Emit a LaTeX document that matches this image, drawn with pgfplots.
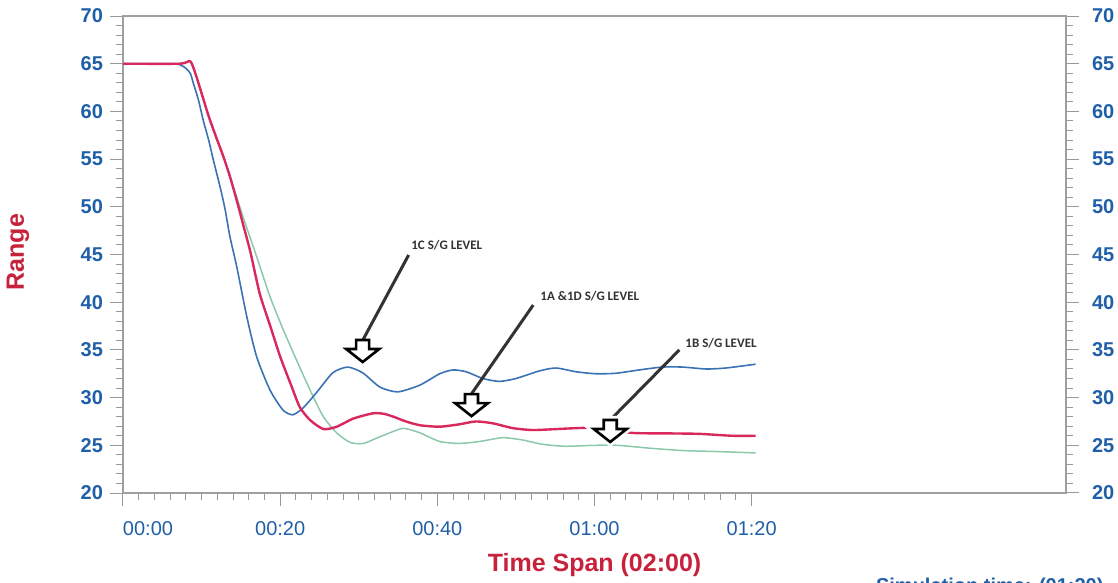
\documentclass[border=0pt]{standalone}
\usepackage{pgfplots}
\pgfplotsset{compat=1.18}
\usepackage{fontspec}
\setmainfont{Liberation Sans}
\newfontfamily\annofont{Carlito}
\definecolor{tickblue}{HTML}{1F5FA8}
\definecolor{labred}{HTML}{C8213B}
\definecolor{lblue}{HTML}{3A72B5}
\definecolor{lred}{HTML}{D9285C}
\definecolor{lgreen}{HTML}{8CC8AA}
\definecolor{annogray}{HTML}{333333}

\pgfplotsset{
  base/.style={
    at={(0,0)}, anchor=south west, scale only axis,
    width=471.5pt, height=238.5pt,
    xmin=0, xmax=120, ymin=20, ymax=70,
    tick align=outside,
    major tick length=6.5pt, minor tick length=3.5pt,
    tick style={draw=gray!80, line width=0.5pt},
    axis line style={draw=gray!75, line width=0.6pt},
    ytick={20,25,...,70}, minor ytick={20,21,...,70},
    yticklabel style={font=\fontsize{10}{12}\selectfont\bfseries, text=tickblue},
    /pgf/number format/assume math mode=true,
  },
}
\tikzset{
  blockarrow/.style={draw=black, fill=white, line width=1.3pt, line join=miter},
  arrowhalo/.style={draw=white, line width=4pt, line join=miter},
}

\begin{document}
\begin{tikzpicture}
\begin{axis}[base,
  xtick={0,20,40,60,80},
  xticklabels={\hspace*{25pt}00:00,00:20,00:40,01:00,01:20},
  minor xtick={0,2,...,80},
  xtick pos=left, ytick pos=left,
  xticklabel style={font=\fontsize{10}{12}\selectfont, text=tickblue, yshift=-4pt},
  xlabel={Time Span (02:00)},
  ylabel={Range},
  every axis x label/.style={at={(axis description cs:0.5,-0.151)}, anchor=center,
     font=\fontsize{12.5}{14}\selectfont\bfseries, text=labred},
  every axis y label/.style={at={(axis description cs:-0.1113,0.505)}, rotate=90, anchor=center,
     font=\fontsize{12.5}{14}\selectfont\bfseries, text=labred},
  clip=false,
]
% 1B S/G level (green)
\addplot[lgreen, line width=0.75pt, smooth, tension=0.4] table {
0 65.0
7.2 65.0
8.55 65.25
9.2 64.0
10.0 61.9
10.9 59.5
11.9 57.2
12.8 55.2
13.6 53.2
14.5 50.9
15.5 48.4
17.0 44.8
18.7 40.6
20.4 37.1
22.1 33.9
23.8 30.8
25.5 28.0
27.2 26.3
28.9 25.3
30.6 25.2
32.7 25.9
35.2 26.7
36.0 26.75
37.8 26.3
40.3 25.4
42.8 25.2
45.4 25.4
48.3 25.8
50.9 25.55
53.4 25.1
56.4 24.9
60.0 25.0
62.9 25.0
67.0 24.7
71.2 24.45
75.4 24.35
80.5 24.2
};
% 1C S/G level (blue)
\addplot[lblue, line width=0.8pt, smooth, tension=0.4] table {
0 65.0
6.4 65.0
7.7 64.7
8.55 64.0
8.97 62.9
9.6 61.2
10.2 59.1
10.9 57.0
11.5 54.9
12.35 52.1
13.0 49.7
13.6 46.9
14.48 43.7
15.75 38.5
17.0 34.3
18.7 30.8
20.35 28.7
21.6 28.2
22.9 28.9
24.6 30.5
26.7 32.6
28.6 33.2
30.5 32.6
32.7 31.1
34.96 30.6
37.75 31.3
40.3 32.5
42.0 32.9
43.7 32.7
45.8 32.0
47.9 31.7
50.0 32.0
53.0 32.8
55.1 33.1
57.7 32.7
60.2 32.5
62.7 32.55
65.7 32.9
68.6 33.2
71.2 33.2
74.2 33.0
76.7 33.1
80.5 33.5
};
% 1A & 1D S/G level (red)
\addplot[lred, line width=1.2pt, smooth, tension=0.4] table {
0 65.0
7.2 65.0
8.55 65.25
9.2 64.0
10.0 61.9
10.9 59.5
11.9 57.2
12.8 55.2
13.6 53.2
14.5 50.6
15.3 48.1
16.2 45.3
17.4 40.9
18.7 37.6
20.0 34.3
21.3 31.5
22.5 29.0
23.8 27.65
25.5 26.7
27.2 26.95
29.3 27.8
31.8 28.35
33.2 28.3
34.4 28.0
36.0 27.5
37.8 27.1
40.3 26.95
42.8 27.2
44.9 27.5
47.1 27.3
49.6 26.8
52.1 26.6
55.1 26.7
57.7 26.8
59.6 26.8
64.8 26.3
69.1 26.25
73.3 26.2
77.5 26.0
80.5 26.0
};
% annotations
\draw[annogray, line width=1.5pt] (axis cs:36.35,44.95) -- (axis cs:30.5,36.0);
\filldraw[blockarrow] (axis cs:30.5,33.73) -- ++(-8.25pt,6.5pt) -- ++(5pt,0pt) -- ++(0pt,4.5pt) -- ++(6.5pt,0pt) -- ++(0pt,-4.5pt) -- ++(5pt,0pt) -- cycle;
\node[font=\annofont\bfseries\fontsize{6.5}{7}\selectfont, text=annogray] at (axis cs:41.2,46.0) {1C S/G LEVEL};

\draw[annogray, line width=1.5pt] (axis cs:52.2,39.7) -- (axis cs:44.35,30.4);
\filldraw[blockarrow] (axis cs:44.35,28.06) -- ++(-8.25pt,6.5pt) -- ++(5pt,0pt) -- ++(0pt,4.5pt) -- ++(6.5pt,0pt) -- ++(0pt,-4.5pt) -- ++(5pt,0pt) -- cycle;
\node[font=\annofont\bfseries\fontsize{6.5}{7}\selectfont, text=annogray] at (axis cs:59.4,40.65) {1A \&1D S/G LEVEL};

\draw[annogray, line width=1.5pt] (axis cs:70.8,35.0) -- (axis cs:62.0,27.65);
\draw[arrowhalo] (axis cs:62.0,25.35) -- ++(-8.25pt,6.5pt) -- ++(5pt,0pt) -- ++(0pt,4.5pt) -- ++(6.5pt,0pt) -- ++(0pt,-4.5pt) -- ++(5pt,0pt) -- cycle;
\filldraw[blockarrow] (axis cs:62.0,25.35) -- ++(-8.25pt,6.5pt) -- ++(5pt,0pt) -- ++(0pt,4.5pt) -- ++(6.5pt,0pt) -- ++(0pt,-4.5pt) -- ++(5pt,0pt) -- cycle;
\node[font=\annofont\bfseries\fontsize{6.5}{7}\selectfont, text=annogray] at (axis cs:76.1,35.7) {1B S/G LEVEL};
\end{axis}
\begin{axis}[base, axis y line*=right, axis x line=none, ytick pos=right, yticklabel pos=right,
  yticklabel style={xshift=3pt}]
\end{axis}
\pgfresetboundingbox
\useasboundingbox (-61.5pt,-45pt) rectangle (497.5pt,246.5pt);
\node[anchor=base west, font=\fontsize{10}{12}\selectfont\bfseries, text=tickblue] at (373pt,-49.5pt) {Simulation time: (01:20)};
\end{tikzpicture}
\end{document}
